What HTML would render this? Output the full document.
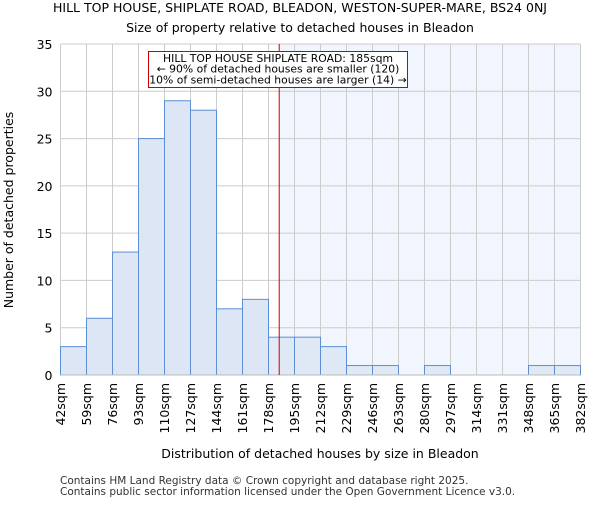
<!DOCTYPE html>
<html><head><meta charset="utf-8"><style>body{margin:0;background:#fff}svg{font-family:"DejaVu Sans","Liberation Sans",sans-serif}</style></head>
<body>
<svg id="chart" width="600" height="500" xmlns="http://www.w3.org/2000/svg">
<text x="300" y="12" text-anchor="middle" font-size="12.5">HILL TOP HOUSE, SHIPLATE ROAD, BLEADON, WESTON-SUPER-MARE, BS24 0NJ</text>
<text x="300" y="32" text-anchor="middle" font-size="12.5">Size of property relative to detached houses in Bleadon</text>
<g id="plot"></g>
<text x="320" y="458" text-anchor="middle" font-size="12.5">Distribution of detached houses by size in Bleadon</text>
<text transform="translate(13,210) rotate(-90)" text-anchor="middle" font-size="12.5">Number of detached properties</text>
<text x="60" y="484" font-size="10.5" fill="#333">Contains HM Land Registry data © Crown copyright and database right 2025.</text>
<text x="60" y="495" font-size="10.5" fill="#333">Contains public sector information licensed under the Open Government Licence v3.0.</text>
</svg>
<script>
const binStarts=[42,59,76,93,110,127,144,161,178,195,212,229,246,263,280,297,314,331,348,365];
const counts=[3,6,13,25,29,28,7,8,4,4,3,1,1,0,1,0,0,0,1,1];
const tickLabels=["42sqm","59sqm","76sqm","93sqm","110sqm","127sqm","144sqm","161sqm","178sqm","195sqm","212sqm","229sqm","246sqm","263sqm","280sqm","297sqm","314sqm","331sqm","348sqm","365sqm","382sqm"];
const yTicks=[0,5,10,15,20,25,30,35];
const propertySize=185;
const binWidth=17;
const L=60.5,R=580.5,T=44,B=375,xMin=42,xMax=382,yMax=35;
const x=v=>L+(v-xMin)/(xMax-xMin)*(R-L);
const y=v=>B-v/yMax*(B-T);
const NS="http://www.w3.org/2000/svg";
const g=document.getElementById('plot');
function mk(t,a,p){const e=document.createElementNS(NS,t);for(const k in a)e.setAttribute(k,a[k]);(p||g).appendChild(e);return e;}
const px=x(propertySize);
let e=mk('rect',{x:px,y:T,width:R-px,height:B-T,fill:'#f1f5fd'});


yTicks.forEach(t=>{let l=mk('line',{x1:L,x2:R,y1:y(t),y2:y(t),stroke:'#ccc'});


let tx=mk('text',{x:L-8,y:y(t)+5,'text-anchor':'end','font-size':'12.5'});tx.textContent=t;

});
tickLabels.forEach((lab,i)=>{const xv=xMin+i*binWidth;let l=mk('line',{x1:x(xv),x2:x(xv),y1:T,y2:B,stroke:'#ccc'});


let tx=mk('text',{transform:`translate(${x(xv)+4.5},383) rotate(-90)`,'text-anchor':'end','font-size':'12.5'});tx.textContent=lab;

});
binStarts.forEach((s,i)=>{if(!counts[i])return;const x0=x(s),x1=x(s+binWidth);
let r=mk('rect',{x:x0,y:y(counts[i]),width:x1-x0,height:B-y(counts[i]),fill:'#dce6f4','fill-opacity':s+binWidth>propertySize?0.85:1,stroke:'#5b8fd6','stroke-width':1});

});
e=mk('line',{x1:L,x2:R,y1:B,y2:B,stroke:'#bbb'});


e=mk('line',{x1:px,x2:px,y1:T,y2:B,stroke:'#c00','stroke-width':1});


const ag=mk('g',{});


mk('rect',{x:148.5,y:51.5,width:259,height:36,fill:'#fff',stroke:'#c00'},ag);
["HILL TOP HOUSE SHIPLATE ROAD: 185sqm","← 90% of detached houses are smaller (120)","10% of semi-detached houses are larger (14) →"].forEach((s,i)=>{let t=mk('text',{x:278,y:62+i*10.7,'text-anchor':'middle','font-size':'10.8'},ag);t.textContent=s;

});
</script>
</body></html>
